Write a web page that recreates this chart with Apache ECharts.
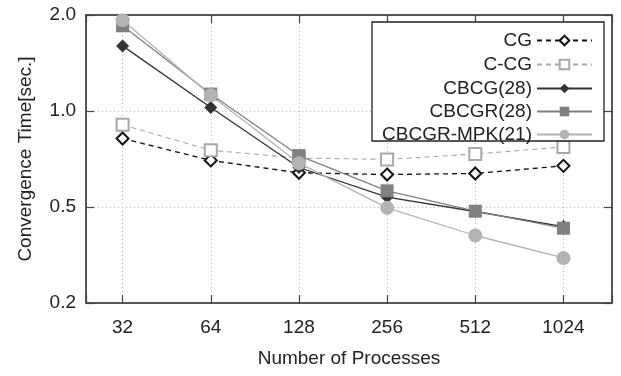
<!DOCTYPE html>
<html>
<head>
<meta charset="utf-8">
<script src="https://cdn.jsdelivr.net/npm/echarts@6/dist/echarts.min.js"></script>
<style>
  html, body { margin: 0; padding: 0; background: #fff; }
  #chart { width: 621px; height: 376px; }
</style>
</head>
<body>
<div id="chart"></div>
<script>
// number of processes (x, log2 scale)
const processes = [32, 64, 128, 256, 512, 1024];

// convergence time [sec.]
const cg = [0.82, 0.70, 0.64, 0.632, 0.637, 0.673];
const ccg = [0.905, 0.753, 0.712, 0.705, 0.733, 0.771];
const cbcg28 = [1.60, 1.025, 0.665, 0.537, 0.484, 0.434];
const cbcgr28 = [1.85, 1.13, 0.725, 0.562, 0.485, 0.429];
const cbcgrMpk21 = [1.925, 1.12, 0.686, 0.497, 0.407, 0.346];

// y ticks and the labels as printed on the original
const yTickValues = [0.25, 0.5, 1, 2];
const yTickLabels = ['0.2', '0.5', '1.0', '2.0'];

const FONT = 'Liberation Sans';
const TEXT = '#222';
const FS = 19;

const pairs = (ys) => processes.map((x, i) => [x, ys[i]]);

const seriesDefs = [
  { name: 'CG', data: cg, symbol: 'emptyDiamond', size: 12, color: '#111', type: [5, 4], width: 1.3 },
  { name: 'C-CG', data: ccg, symbol: 'emptyRect', size: 12, color: '#a8a8a8', type: [5, 4], width: 1.1 },
  { name: 'CBCG(28)', data: cbcg28, symbol: 'diamond', size: 13, color: '#333', type: 'solid', width: 1.3 },
  { name: 'CBCGR(28)', data: cbcgr28, symbol: 'rect', size: 13, color: '#808080', type: 'solid', width: 1.3 },
  { name: 'CBCGR-MPK(21)', data: cbcgrMpk21, symbol: 'circle', size: 14, color: '#b3b3b3', type: 'solid', width: 1.3 },
];

const legendRowsY = [37, 61, 85, 108, 131];

const gridLine = { show: true, lineStyle: { color: '#b5b5b5', type: [1, 3], width: 1 } };
const axisLine = { show: true, onZero: false, lineStyle: { color: '#222', width: 1.5 } };
const tick = { show: true, inside: true, length: 8, lineStyle: { color: '#444', width: 1.2 } };

const xFormatter = (v) => {
  const r = Math.round(v);
  return processes.indexOf(r) >= 0 ? String(r) : '';
};
const yFormatter = (v) => {
  const i = yTickValues.findIndex((t) => Math.abs(t - v) < 1e-6);
  return i >= 0 ? yTickLabels[i] : '';
};

const chart = echarts.init(document.getElementById('chart'));
chart.setOption({
  backgroundColor: '#fff',
  animation: false,
  textStyle: { fontFamily: FONT },
  grid: { left: 86, right: 9, top: 15, bottom: 73 },
  xAxis: [
    {
      type: 'log', logBase: 2, min: 24, max: 1500,
      name: 'Number of Processes', nameLocation: 'middle', nameGap: 46,
      nameTextStyle: { fontSize: FS, color: TEXT, fontFamily: FONT },
      axisLine, axisTick: tick, splitLine: gridLine, minorTick: { show: false },
      axisLabel: { formatter: xFormatter, fontSize: FS, color: TEXT, margin: 15, fontFamily: FONT },
    },
    {
      type: 'log', logBase: 2, min: 24, max: 1500, position: 'top',
      axisLine, axisTick: tick, splitLine: { show: false }, axisLabel: { show: false },
    },
  ],
  yAxis: [
    {
      type: 'log', logBase: 2, min: 0.25, max: 2,
      name: 'Convergence Time[sec.]', nameLocation: 'middle', nameGap: 51,
      nameTextStyle: { fontSize: FS, color: TEXT, fontFamily: FONT },
      axisLine, axisTick: tick, splitLine: gridLine,
      axisLabel: { formatter: yFormatter, fontSize: FS, color: TEXT, margin: 10, fontFamily: FONT },
    },
    {
      type: 'log', logBase: 2, min: 0.25, max: 2, position: 'right',
      axisLine, axisTick: tick, splitLine: { show: false }, axisLabel: { show: false },
    },
  ],
  legend: seriesDefs.map((s, i) => ({
    data: [s.name],
    right: 28,
    top: legendRowsY[i] - 6,
    padding: 0,
    align: 'right',
    itemWidth: 55,
    itemHeight: 12,
    selectedMode: false,
    textStyle: { fontSize: FS, color: TEXT, fontFamily: FONT },
  })),
  graphic: [
    {
      type: 'rect', z: 3,
      shape: { x: 372, y: 22, width: 232, height: 119 },
      style: { fill: '#fff', stroke: '#222', lineWidth: 1.3 },
    },
  ],
  series: seriesDefs.map((s) => ({
    name: s.name,
    type: 'line',
    data: pairs(s.data),
    symbol: s.symbol,
    symbolSize: s.size,
    color: s.color,
    lineStyle: { color: s.color, width: s.width, type: s.type },
    itemStyle: { color: s.color, borderColor: s.color, borderWidth: s.symbol.startsWith('empty') ? 1.2 : 0 },
    z: 2,
  })),
});
</script>
</body>
</html>
